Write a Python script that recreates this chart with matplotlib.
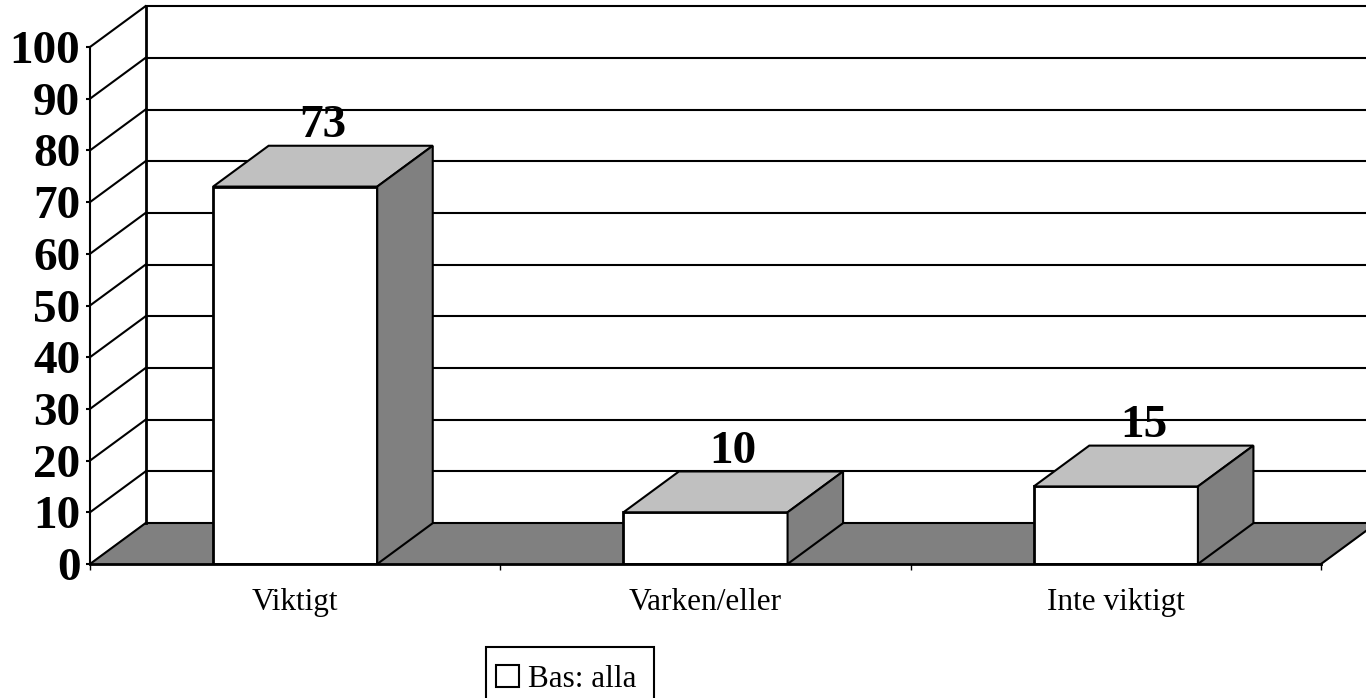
import matplotlib
matplotlib.use("Agg")
import matplotlib.pyplot as plt
from matplotlib.patches import Patch, Rectangle

categories = ["Viktigt", "Varken/eller", "Inte viktigt"]
values = [73, 10, 15]
y_ticks = [0, 10, 20, 30, 40, 50, 60, 70, 80, 90, 100]
series_name = "Bas: alla"

# depth of the fake 3d box, in data units
dx = 0.1353
dy = 7.9
bar_width = 0.4
lw = 1.5

plt.rcParams["font.family"] = ["Liberation Serif", "DejaVu Serif"]

fig = plt.figure(figsize=(13.66, 6.98), dpi=100)
ax = fig.add_axes([90 / 1366, 134 / 698, 1231 / 1366, 517 / 698])
ax.set_xlim(0, 3)
ax.set_ylim(0, 100)

# floor
ax.fill([0, 3, 3 + dx, dx], [0, 0, dy, dy], color="#808080", clip_on=False, zorder=1)
ax.plot([dx, 3 + dx], [dy, dy], color="black", lw=lw, clip_on=False, zorder=1.5)
ax.plot([3, 3 + dx], [0, dy], color="black", lw=lw, clip_on=False, zorder=1.5)

# back wall and left wall grid
for t in y_ticks[1:]:
    ax.plot([dx, 3 + dx], [t + dy, t + dy], color="black", lw=lw, clip_on=False, zorder=1.5)
for t in y_ticks:
    ax.plot([0, dx], [t, t + dy], color="black", lw=lw, clip_on=False, zorder=1.5)
ax.plot([dx, dx], [dy, 100 + dy], color="black", lw=2, clip_on=False, zorder=1.5)

# bars: front, top, side
for i, v in enumerate(values):
    x0 = i + 0.5 - bar_width / 2
    x1 = i + 0.5 + bar_width / 2
    ax.bar(i + 0.5, v, width=bar_width, color="white", edgecolor="black", linewidth=2, zorder=3)
    ax.fill([x0, x1, x1 + dx, x0 + dx], [v, v, v + dy, v + dy], facecolor="#c0c0c0",
            edgecolor="black", linewidth=lw, zorder=3, clip_on=False)
    ax.fill([x1, x1 + dx, x1 + dx, x1], [0, dy, v + dy, v], facecolor="#808080",
            edgecolor="black", linewidth=lw, zorder=3, clip_on=False)
    ax.annotate(str(v), (i + 0.5 + dx / 2, v + dy), xytext=(0, -1), textcoords="offset points",
                ha="center", va="bottom", fontsize=34, fontweight="bold", zorder=4,
                annotation_clip=False)

ax.spines["top"].set_visible(False)
ax.spines["right"].set_visible(False)
ax.spines["left"].set_linewidth(lw)
ax.spines["bottom"].set_linewidth(2)
ax.spines["bottom"].set_zorder(5)
ax.patch.set_visible(False)

ax.set_yticks(y_ticks)
ax.set_yticklabels([str(t) for t in y_ticks], fontsize=34, fontweight="bold")
ax.tick_params(axis="y", length=3, width=lw, pad=4)

ax.set_xticks([0, 1, 2, 3])
ax.set_xticklabels([])
ax.set_xticks([0.5, 1.5, 2.5], minor=True)
ax.set_xticklabels(categories, minor=True, fontsize=22.5)
ax.tick_params(axis="x", which="major", length=4.5, width=1)
ax.tick_params(axis="x", which="minor", length=0, pad=17)

# legend box runs off the bottom of the picture in the reference
fig.add_artist(Rectangle((486 / 1366, -20 / 698), 168 / 1366, 71 / 698, transform=fig.transFigure,
                         facecolor="white", edgecolor="black", linewidth=1.5))
handle = Patch(facecolor="white", edgecolor="black", linewidth=1.5, label=series_name)
leg = fig.legend(handles=[handle], loc="lower left", bbox_to_anchor=(496 / 1366, 4 / 698),
                 fontsize=22.5, frameon=False, handlelength=0.74, handleheight=0.68,
                 handletextpad=0.3, borderpad=0, borderaxespad=0)

fig.savefig("out.png", dpi=100)
